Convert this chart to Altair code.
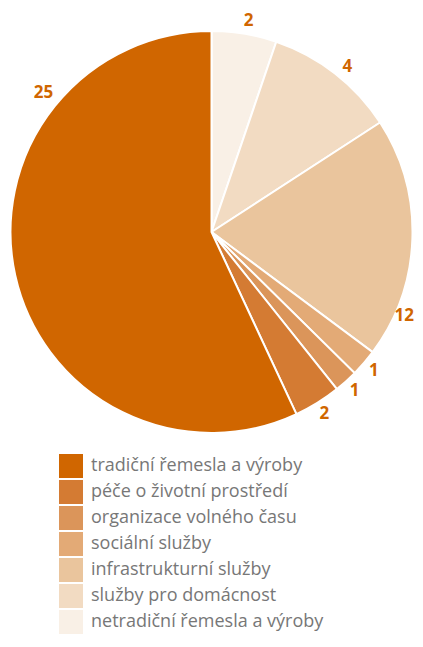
import altair as alt
import pandas as pd

# pie order, clockwise from 12 o'clock
categories = [
    "netradiční řemesla a výroby",
    "služby pro domácnost",
    "infrastrukturní služby",
    "sociální služby",
    "organizace volného času",
    "péče o životní prostředí",
    "tradiční řemesla a výroby",
]
# slice shares as drawn (degrees of the circle)
shares = [18.8, 38.2, 69.7, 7.9, 6.8, 13.6, 205.0]
# printed counts
labels = ["2", "4", "12", "1", "1", "2", "25"]
colors = ["#F9F0E6", "#F2DBC2", "#EAC59D", "#E3AA76", "#DB955A", "#D47B33", "#D06600"]

# label placement (fraction along the slice, distance from centre)
label_frac = [0.53, 0.54, 0.81, 0.5, 0.5, 0.5, 0.754]
label_r = [214, 214, 210, 214, 214, 214, 218]

total = sum(shares)
start = 0.0
lab_theta = []
for s, f in zip(shares, label_frac):
    lab_theta.append(start + f * s)
    start += s

df = pd.DataFrame({
    "category": categories,
    "share": shares,
    "label": labels,
    "order": list(range(len(categories))),
    "lab_theta": lab_theta,
    "lab_r": label_r,
})

legend_order = categories[::-1]
legend_colors = colors[::-1]

color = alt.Color(
    "category:N",
    scale=alt.Scale(domain=legend_order, range=legend_colors),
    legend=alt.Legend(
        title=None,
        orient="none",
        legendX=51,
        legendY=446,
        symbolType="square",
        symbolSize=576,
        symbolStrokeWidth=0,
        symbolOpacity=1,
        labelFont="Open Sans",
        labelFontSize=18,
        labelColor="#777777",
        labelOffset=8,
        rowPadding=2,
        labelLimit=400,
    ),
)

arcs = alt.Chart(df).mark_arc(outerRadius=201, stroke="white", strokeWidth=2).encode(
    theta=alt.Theta("share:Q", stack=True, scale=alt.Scale(domain=[0, total])),
    color=color,
    order=alt.Order("order:Q"),
)

texts = alt.Chart(df).mark_text(
    font="Open Sans", fontSize=17, fontWeight="bold", color="#D06600"
).encode(
    theta=alt.Theta("lab_theta:Q", stack=None, scale=alt.Scale(domain=[0, total])),
    radius=alt.Radius("lab_r:Q", scale=None),
    text="label:N",
)

chart = alt.layer(arcs, texts).properties(
    width=407,
    height=448,
    padding={"left": 0, "top": 0, "right": 0, "bottom": 178},
    autosize=alt.AutoSizeParams(type="none"),
).configure_view(stroke=None)

chart.save("out.html", embed_options={"renderer": "svg", "actions": False})
